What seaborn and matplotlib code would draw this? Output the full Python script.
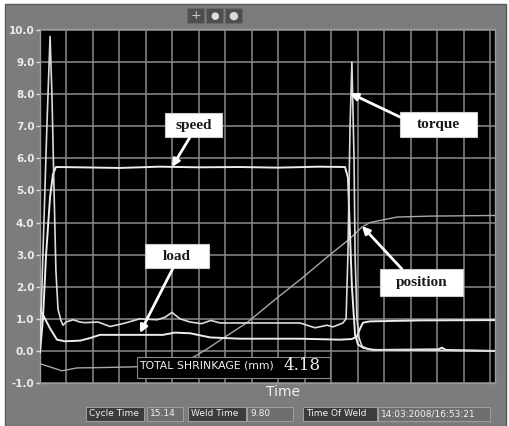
import matplotlib
matplotlib.use("Agg")
import matplotlib.pyplot as plt
import seaborn as sns
from matplotlib.patches import Rectangle

# DATA (time in grid units, value on the y scale)
torque_t = [0, 0.11, 0.26, 0.38, 0.45, 0.53, 0.6, 0.68, 0.79, 0.87, 0.98, 1.25, 1.51, 1.7,
            2.19, 2.64, 3.13, 3.77, 4.42, 4.72, 4.98, 5.28, 5.66, 6.1, 6.45, 6.8, 7.55,
            8.94, 9.81, 10.38, 10.83, 11.06, 11.43, 11.55, 11.62, 11.7, 11.77, 11.85, 11.89,
            11.96, 12.04, 12.15, 12.38, 12.83, 17.17]
torque_v = [0.1, 3.0, 7.0, 9.8, 8.0, 5.0, 2.5, 1.3, 0.95, 0.8, 0.9, 0.97, 0.9, 0.88,
            0.9, 0.76, 0.85, 1.0, 0.97, 1.05, 1.2, 1.0, 0.9, 0.85, 0.95, 0.87, 0.87,
            0.87, 0.87, 0.72, 0.8, 0.75, 0.87, 1.0, 3.0, 7.0, 9.0, 6.0, 3.0,
            1.0, 0.4, 0.15, 0.05, 0.03, 0.0]

speed_t = [0, 0.11, 0.23, 0.38, 0.49, 0.6, 1.5, 3.0, 4.5, 6.0, 7.5, 9.0, 10.5, 11.51,
           11.62, 11.66, 11.77, 11.89, 12.0, 12.19, 12.57, 15.02, 15.17, 15.32, 17.17]
speed_v = [-0.05, 1.0, 3.0, 4.8, 5.5, 5.73, 5.72, 5.7, 5.74, 5.72, 5.73, 5.71, 5.74, 5.73,
           5.4, 4.5, 2.0, 0.5, 0.2, 0.1, 0.03, 0.05, 0.1, 0.03, 0.0]

load_t = [0, 0.19, 0.38, 0.64, 0.94, 1.51, 1.89, 2.26, 3.4, 4.64, 5.09, 5.66, 6.42, 7.55,
          9.81, 11.32, 11.77, 11.96, 12.08, 12.19, 12.45, 14.34, 17.17]
load_v = [1.3, 1.0, 0.7, 0.35, 0.3, 0.32, 0.4, 0.5, 0.5, 0.5, 0.57, 0.55, 0.42, 0.38,
          0.38, 0.35, 0.37, 0.45, 0.7, 0.88, 0.92, 0.95, 0.96]

position_t = [0, 0.38, 0.83, 1.4, 2.26, 3.4, 4.53, 5.28, 5.89, 6.34, 6.79, 7.81, 8.87,
              9.92, 10.83, 11.7, 12.15, 12.45, 13.47, 14.72, 17.17]
position_v = [-0.4, -0.5, -0.62, -0.53, -0.52, -0.5, -0.47, -0.4, -0.15, 0.08, 0.33, 0.88,
              1.6, 2.29, 2.92, 3.5, 3.86, 4.0, 4.17, 4.2, 4.22]

y_ticks = [-1, 0, 1, 2, 3, 4, 5, 6, 7, 8, 9, 10]
total_shrinkage = "4.18"
status_labels = ["Cycle Time", "Weld Time", "Time Of Weld"]
status_values = ["15.14", "9.80", "14:03:2008/16:53:21"]

W, H = 510, 426
PANEL = "#7c7c7c"

sns.set_style("dark")
fig = plt.figure(figsize=(W / 100, H / 100), dpi=100)
fig.patch.set_facecolor("white")


def px(x, y):
    # pixel (from top-left) -> figure fraction
    return x / W, 1 - y / H


def fig_rect(x0, y0, x1, y1, z=1, **kw):
    fx, fy = px(x0, y1)
    fig.patches.append(Rectangle((fx, fy), (x1 - x0) / W, (y1 - y0) / H,
                                 transform=fig.transFigure, figure=fig, zorder=z, **kw))


# grey instrument panel (behind the axes)
fig_rect(5, 4, 506, 426, z=-5, facecolor=PANEL, edgecolor="#5a5a5a", lw=1)

# toolbar
for x0 in [187, 206, 225]:
    fig_rect(x0, 8, x0 + 17, 23, facecolor="#4e4e4e", edgecolor="#6a6a6a", lw=0.6)
fig.text(*px(195.5, 15.5), "+", color="#d0d0d0", fontsize=9, ha="center", va="center")
fig.text(*px(214.5, 15.5), "●", color="#e0e0e0", fontsize=7, ha="center", va="center")
fig.text(*px(233.5, 16), "●", color="#d8d8d8", fontsize=8, ha="center", va="center")

ax = fig.add_axes([40 / W, (H - 383) / H, 455 / W, (383 - 29) / H])
ax.set_zorder(2)
ax.set_facecolor("black")

line_col = "#ececec"
sns.lineplot(x=speed_t, y=speed_v, ax=ax, color=line_col, lw=1.4, estimator=None, sort=False, zorder=4)
sns.lineplot(x=load_t, y=load_v, ax=ax, color=line_col, lw=1.4, estimator=None, sort=False, zorder=4)
sns.lineplot(x=torque_t, y=torque_v, ax=ax, color="#dcdcdc", lw=1.2, estimator=None, sort=False, zorder=4)
sns.lineplot(x=position_t, y=position_v, ax=ax, color="#a8a8a8", lw=1.0, estimator=None, sort=False, zorder=3)

ax.set_xlim(0, 17.17)
ax.set_ylim(-1, 10.03)
ax.set_xticks(range(0, 18))
ax.set_yticks(y_ticks)
ax.set_yticklabels([f"{v:.1f}" for v in y_ticks])
ax.grid(True, color="#8a8a8a", lw=1.1)
ax.set_axisbelow(True)
ax.tick_params(axis="x", length=0, labelbottom=False)
ax.tick_params(axis="y", length=3, width=1, color="#e0e0e0", labelcolor="#ececec",
               labelsize=7.5, pad=1, left=True)
for lab in ax.get_yticklabels():
    lab.set_fontweight("bold")
for s in ax.spines.values():
    s.set_color("#9a9a9a")
    s.set_linewidth(1)
ax.set_xlabel("")
ax.set_ylabel("")

# total shrinkage readout box
ax.add_patch(Rectangle((3.66, -0.84), 10.94 - 3.66, 0.65, facecolor="black",
                       edgecolor="#8a8a8a", lw=0.8, zorder=5))
ax.text(3.74, -0.47, "TOTAL SHRINKAGE (mm)", color="#f0f0f0", fontsize=7.8,
        ha="left", va="center", zorder=6)
ax.text(9.2, -0.45, total_shrinkage, color="#f0f0f0", fontsize=12,
        family="DejaVu Serif", ha="left", va="center", zorder=6)

# callout labels
callouts = [
    ("speed", (4.72, 6.66, 6.87, 7.41), (5.66, 6.66), (4.98, 5.73)),
    ("torque", (13.58, 6.66, 16.49, 7.44), (13.58, 7.29), (11.7, 8.03)),
    ("load", (3.96, 2.58, 6.38, 3.33), (5.02, 2.58), (3.77, 0.56)),
    ("position", (12.83, 1.71, 15.96, 2.55), (13.66, 2.55), (12.15, 3.89)),
]
for name, (x0, y0, x1, y1), start, tip in callouts:
    ax.add_patch(Rectangle((x0, y0), x1 - x0, y1 - y0, facecolor="white",
                           edgecolor="#cccccc", lw=0.8, zorder=7))
    ax.text((x0 + x1) / 2, (y0 + y1) / 2, name, color="#1a1a1a", fontsize=11,
            fontweight="bold", family="Liberation Serif", ha="center", va="center", zorder=8)
    ax.annotate("", xy=tip, xytext=start, zorder=8,
                arrowprops=dict(arrowstyle="-|>", color="white", lw=2,
                                mutation_scale=11, shrinkA=0, shrinkB=0))

fig.text(*px(283, 392), "Time", color="#f0f0f0", fontsize=10, ha="center", va="center")

# status bar
boxes = [
    (86, 144, "#3c3c3c", status_labels[0]), (147, 183, "#6e6e6e", status_values[0]),
    (188, 246, "#3c3c3c", status_labels[1]), (247, 293, "#6e6e6e", status_values[1]),
    (303, 377, "#3c3c3c", status_labels[2]), (378, 490, "#6e6e6e", status_values[2]),
]
for x0, x1, fc, txt in boxes:
    fig_rect(x0, 407, x1, 421, facecolor=fc, edgecolor="#a0a0a0", lw=0.7)
    fig.text(*px(x0 + 3, 414), txt, color="#f2f2f2", fontsize=6.5, ha="left", va="center")

plt.savefig("out.png", dpi=100, facecolor=fig.get_facecolor())
